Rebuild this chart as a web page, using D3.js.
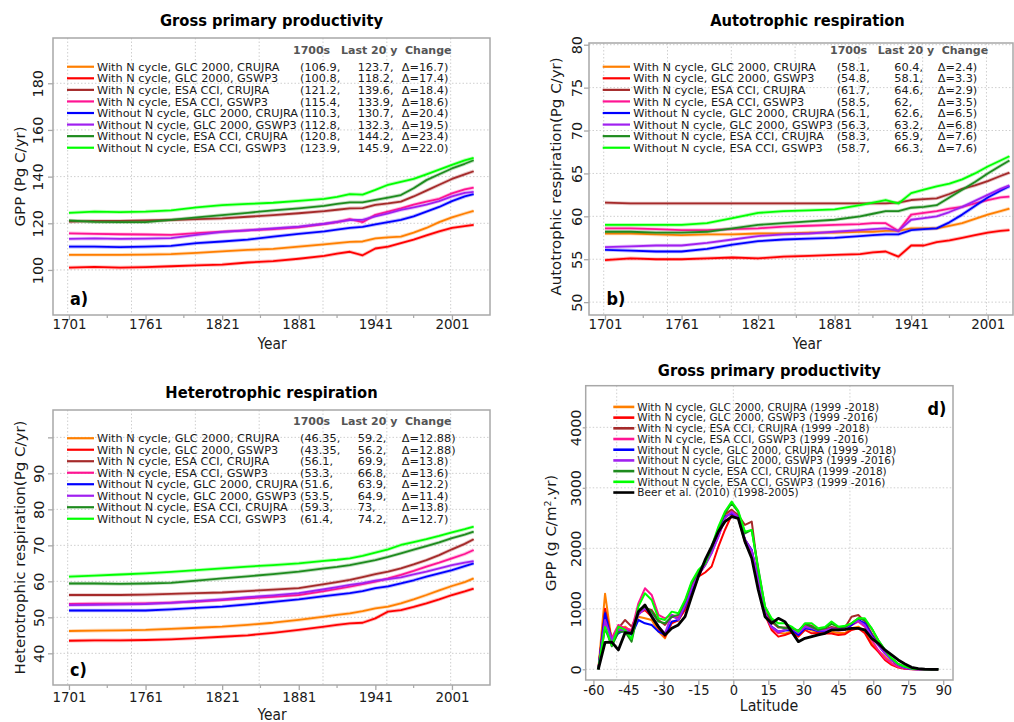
<!DOCTYPE html>
<html><head><meta charset="utf-8">
<script src="https://cdn.jsdelivr.net/npm/d3@7"></script>
<style>body{margin:0;background:#fff}svg text{font-family:"DejaVu Sans",sans-serif}</style>
</head><body>
<svg id="chart" width="1014" height="722"></svg>
<script>
// ---------------- DATA ----------------
const seriesNames = [
  "With N cycle, GLC 2000, CRUJRA","With N cycle, GLC 2000, GSWP3",
  "With N cycle, ESA CCI, CRUJRA","With N cycle, ESA CCI, GSWP3",
  "Without N cycle, GLC 2000, CRUJRA","Without N cycle, GLC 2000, GSWP3",
  "Without N cycle, ESA CCI, CRUJRA","Without N cycle, ESA CCI, GSWP3"];
const seriesColors = ["#FF7F00","#FF0000","#A52A2A","#FF1493","#0000FF","#A020F0","#1E8B1E","#00FF00"];
const statHeaders = ["1700s","Last 20 y","Change"];

const years = [1701,1721,1741,1761,1781,1801,1821,1841,1861,1881,1901,1911,1921,1931,1941,1951,1961,1971,1981,1991,2001,2011,2018];
const yearTicks = [1701,1761,1821,1881,1941,2001];
const yearMinorTicks = [1731,1791,1851,1911,1971];
const yearGrid = [1700,1750,1800,1850,1900,1950,2000];

// Panel a: GPP (Pg C/yr)
const gppSeries = [
 [106.5,106.5,106.5,106.6,106.8,107.3,108,108.6,109,110,111,111.5,112,112.2,113.5,114,114.3,116,118,120.5,122.5,124.2,125.3],
 [101,101.3,101,101.2,101.6,102,102.3,103.2,103.8,104.8,106,107,107.8,106.3,109.2,110,111.5,113,114.8,116.5,118,118.8,119.3],
 [120.7,121,121,121.2,121.4,121.8,122.1,122.8,123.5,124.3,125.2,125.8,126.4,126.5,127.9,128.5,129.3,131.5,134,136.5,139,141,142.3],
 [115.7,115.5,115.3,115.2,115,115.8,116.4,117,117.5,118.3,119.7,120.5,121.8,120.5,123.6,125,126.4,128,129.3,130.5,132.8,134.5,135.3],
 [110,110,109.8,110,110.3,111.5,112.2,113,114.3,115.5,116.5,117.3,118,118.5,119.5,120.5,121.5,123,125,127,129.5,131.5,132.5],
 [113.3,113.5,113.3,113.4,113.6,115,116.3,117,117.8,118.6,119.8,120.6,121.4,121.5,123,124.3,125.7,126.8,128,129.5,131.5,133,133.5],
 [121.2,120.6,120.5,120.5,121.5,122.5,123.5,124.5,125.5,126.4,127.5,128.3,129,129,130,131,132.1,135,138.5,141,143.5,145.5,147],
 [124.5,125,124.8,125,125.5,126.8,127.8,128.3,128.8,129.6,130.5,131.3,132.5,132.3,134.3,136.5,137.8,139,141,143,145,147,148]];
const gppStats = [["(106.9,","123.7,","Δ=16.7)"],["(100.8,","118.2,","Δ=17.4)"],["(121.2,","139.6,","Δ=18.4)"],["(115.4,","133.9,","Δ=18.6)"],
 ["(110.3,","130.7,","Δ=20.4)"],["(112.8,","132.3,","Δ=19.5)"],["(120.8,","144.2,","Δ=23.4)"],["(123.9,","145.9,","Δ=22.0)"]];
const gppTicks = [100,120,140,160,180];

// Panel b: autotrophic respiration
const raSeries = [
 [58,58,57.9,57.8,57.9,57.9,58,58,58.1,58.1,58.2,58.2,58.3,58.3,58.6,58.6,58.6,58.9,59.2,59.7,60.2,60.6,60.9],
 [54.9,55.1,55,55,55.1,55.2,55.1,55.3,55.4,55.5,55.6,55.8,55.9,55.3,56.6,56.6,57,57.2,57.5,57.8,58.1,58.3,58.4],
 [61.6,61.5,61.5,61.5,61.5,61.5,61.5,61.5,61.5,61.5,61.5,61.5,61.5,61.6,61.9,62,62.1,62.6,63.2,63.6,64.1,64.7,65.1],
 [58.6,58.6,58.5,58.4,58.4,58.5,58.6,58.8,58.9,59,59.1,59.2,59.2,58.3,60.2,60.4,60.6,60.9,61.1,61.5,61.9,62.2,62.3],
 [56.1,56,55.9,55.9,56.2,56.7,57.1,57.3,57.4,57.5,57.7,57.8,57.9,57.9,58.4,58.5,58.6,59.3,60.2,61.2,62.2,63,63.5],
 [56.4,56.5,56.6,56.6,56.9,57.3,57.7,57.9,58,58.2,58.4,58.5,58.6,58.3,59.6,59.8,60,60.5,61.1,61.8,62.5,63.2,63.6],
 [58.2,58.2,58.1,58.1,58.2,58.6,59,59.2,59.4,59.6,60,60.3,60.6,60.6,61,61.1,61.3,62.2,63.1,64,65,65.9,66.5],
 [59,59,59,59,59.2,59.8,60.4,60.6,60.7,60.8,61.3,61.6,61.9,61.5,62.7,63.1,63.5,63.8,64.3,65,65.8,66.5,67]];
const raStats = [["(58.1,","60.4,","Δ=2.4)"],["(54.8,","58.1,","Δ=3.3)"],["(61.7,","64.6,","Δ=2.9)"],["(58.5,","62,","Δ=3.5)"],
 ["(56.1,","62.6,","Δ=6.5)"],["(56.3,","63.2,","Δ=6.8)"],["(58.3,","65.9,","Δ=7.6)"],["(58.7,","66.3,","Δ=7.6)"]];
const raTicks = [50,55,60,65,70,75,80];

// Panel c: heterotrophic respiration
const rhSeries = [
 [46.2,46.3,46.4,46.5,46.8,47.1,47.4,47.9,48.5,49.3,50.2,50.7,51.1,51.7,52.5,53,53.9,55,56.2,57.5,58.7,59.8,60.8],
 [43.5,43.6,43.6,43.7,43.9,44.2,44.6,45,45.7,46.5,47.4,47.9,48.3,48.5,49.7,51.6,52,52.9,53.9,55,56.2,57.2,58],
 [56.2,56.2,56.2,56.3,56.5,56.7,56.9,57.3,57.7,58.1,59.2,59.8,60.4,61.2,62,62.7,63.6,64.7,65.9,67.3,68.9,70.4,71.7],
 [53.7,53.8,53.8,53.9,54.1,54.4,54.8,55.3,55.7,56.2,57.3,57.9,58.5,59.2,59.9,60.8,61.8,62.9,64.1,65.2,66.4,67.6,68.7],
 [51.9,51.9,51.9,51.9,52.2,52.6,53,53.6,54.3,55,55.9,56.3,56.7,57.3,58.1,58.6,59.4,60.3,61.3,62.2,63.1,64.2,65],
 [53.4,53.5,53.6,53.7,54,54.5,55,55.6,56.1,56.7,57.8,58.4,59,59.5,60.2,60.6,61.1,61.9,62.7,63.6,64.5,65.2,65.6],
 [59.4,59.4,59.3,59.4,59.6,60.2,60.8,61.4,62,62.7,63.6,64,64.5,65.2,65.9,66.8,67.8,68.8,69.8,70.8,72,73,73.8],
 [61.3,61.6,61.9,62.2,62.6,63.1,63.6,64.1,64.5,65,65.7,66,66.4,67.1,68,68.9,70.1,70.9,71.7,72.6,73.6,74.5,75.2]];
const rhStats = [["(46.35,","59.2,","Δ=12.88)"],["(43.35,","56.2,","Δ=12.88)"],["(56.1,","69.9,","Δ=13.8)"],["(53.3,","66.8,","Δ=13.6)"],
 ["(51.6,","63.9,","Δ=12.2)"],["(53.5,","64.9,","Δ=11.4)"],["(59.3,","73,","Δ=13.8)"],["(61.4,","74.2,","Δ=12.7)"]];
const rhTicks = [40,50,60,70,80,90,100];
const rhTickLabels = ["40","50","60","70","80","90",""];

// Panel d: zonal GPP (g C/m2/yr)
const latNames = [
 "With N cycle, GLC 2000, CRUJRA (1999 -2018)","With N cycle, GLC 2000, GSWP3 (1999 -2016)",
 "With N cycle, ESA CCI, CRUJRA (1999 -2018)","With N cycle, ESA CCI, GSWP3 (1999 -2016)",
 "Without N cycle, GLC 2000, CRUJRA (1999 -2018)","Without N cycle, GLC 2000, GSWP3 (1999 -2016)",
 "Without N cycle, ESA CCI, CRUJRA (1999 -2018)","Without N cycle, ESA CCI, GSWP3 (1999 -2016)",
 "Beer et al. (2010) (1998-2005)"];
const latColors = [...seriesColors, "#000000"];
const lats = [-57.9,-55,-52.1,-49.3,-46.4,-43.6,-40.7,-37.9,-35,-32.1,-29.3,-26.4,-23.6,-20.7,-17.9,-15,-12.1,-9.3,-6.4,-3.6,-0.7,2.1,5,7.9,10.7,13.6,16.4,19.3,22.1,25,27.9,30.7,33.6,36.4,39.3,42.1,45,47.9,50.7,53.6,56.4,59.3,62.1,65,67.9,70.7,73.6,76.4,79.3,82.1,85,87.9];
const latSeries = [
 [0,1250,450,650,705,620,870,843,815,623,512,788,800,1008,1284,1560,1720,1930,2250,2550,2640,2500,2150,1950,1480,920,680,600,590,630,560,690,640,620,620,620,600,600,680,705,623,430,300,209,99,40,10,3,0,0,0,0],
 [0,1000,480,705,678,623,925,980,870,678,540,760,815,980,1229,1532,1600,1700,2028,2303,2551,2500,2100,1900,1450,900,650,540,568,606,540,650,595,600,590,590,568,580,650,678,595,402,292,154,72,28,8,2,0,0,0,0],
 [0,950,500,678,815,705,950,1008,980,815,733,870,850,1090,1394,1587,1750,1980,2303,2570,2634,2550,2386,2441,1600,950,788,690,690,680,620,750,720,650,660,700,680,690,870,898,788,595,430,290,150,60,20,5,0,0,0,0],
 [0,780,520,733,678,650,1090,1339,1229,900,843,900,870,1063,1366,1559,1725,1945,2193,2496,2606,2520,2140,1970,1480,930,690,595,650,660,600,720,700,640,640,660,640,650,730,788,705,485,320,182,99,40,12,3,0,0,0,0],
 [0,925,440,595,650,568,815,760,733,623,568,788,815,1036,1311,1560,1740,1940,2250,2524,2579,2520,2140,1970,1470,925,705,623,640,650,568,678,660,630,630,650,650,660,733,815,760,568,402,265,154,72,25,5,0,0,0,0],
 [0,815,480,650,650,600,900,1008,900,705,595,900,815,1060,1339,1550,1720,1917,2193,2500,2600,2510,2140,1960,1470,925,700,620,650,680,600,700,680,640,640,680,660,670,760,800,730,540,402,265,154,72,25,5,0,0,0,0],
 [0,680,380,620,620,457,980,1036,953,788,760,870,900,1118,1421,1614,1752,2000,2331,2579,2744,2600,2248,2303,1670,1036,815,705,678,680,640,750,700,650,680,750,700,700,760,843,815,678,485,320,182,88,44,15,3,0,0,0],
 [0,700,400,705,650,500,1036,1256,1146,843,815,953,925,1146,1449,1642,1752,2028,2358,2606,2772,2620,2276,2303,1642,1036,843,760,760,705,623,760,760,678,700,788,705,720,760,843,843,678,485,320,182,88,44,15,3,0,0,0],
 [0,446,450,320,606,595,953,1063,870,705,568,678,733,870,1201,1532,1807,2028,2276,2441,2524,2496,2110,1835,1311,870,760,843,788,623,457,512,540,568,595,650,650,661,678,678,650,512,430,320,237,154,88,33,11,3,0,0]];
const latTicks = [-60,-45,-30,-15,0,15,30,45,60,75,90];
const latGrid = [-50,0,50];
const latYTicks = [0,1000,2000,3000,4000];

// ---------------- DRAWING ----------------
const svg = d3.select("#chart");
const FRAME = "#a8a8a8", GRID = "#cfcfcf", TXT = "#1a1a1a";
const SX = 0.92;            // horizontal squeeze of the original figure's lettering
let clipId = 0;

function htext(parent, x, y, str, size, anchor, bold, fill, sx) {
  return parent.append("text")
    .attr("transform", `translate(${x},${y}) scale(${sx || SX},1)`)
    .attr("text-anchor", anchor || "start")
    .style("font-size", size + "px").style("font-weight", bold ? "bold" : "normal")
    .attr("fill", fill || TXT).text(str);
}

function panel(o) {
  const g = svg.append("g");
  const x = d3.scaleLinear().domain(o.xDom).range([o.L, o.R]);
  const y = d3.scaleLinear().domain(o.yDom).range([o.B, o.T]);
  g.selectAll(null).data(o.xGrid).join("line")
    .attr("x1", d => x(d)).attr("x2", d => x(d)).attr("y1", o.T).attr("y2", o.B)
    .attr("stroke", GRID).attr("stroke-width", 1).attr("stroke-dasharray", "1.5,2");
  g.selectAll(null).data(o.yTicks).join("line")
    .attr("y1", d => y(d)).attr("y2", d => y(d)).attr("x1", o.L).attr("x2", o.R)
    .attr("stroke", GRID).attr("stroke-width", 1).attr("stroke-dasharray", "1.5,2");
  const cid = "clip" + (clipId++);
  svg.append("clipPath").attr("id", cid).append("rect")
    .attr("x", o.L).attr("y", o.T).attr("width", o.R - o.L).attr("height", o.B - o.T);
  const lg = g.append("g").attr("clip-path", `url(#${cid})`);
  const line = d3.line().x((d, i) => x(o.xs[i])).y(d => y(d));
  o.series.forEach((s, i) => {
    if (o.fuzz) lg.append("path").attr("d", line(s)).attr("fill", "none")
      .attr("stroke", o.colors[i]).attr("stroke-width", 3.6).attr("stroke-opacity", 0.28);
    lg.append("path").attr("d", line(s)).attr("fill", "none")
      .attr("stroke", o.colors[i]).attr("stroke-width", o.lw ? o.lw[i] : 1.8)
      .attr("stroke-linejoin", "round");
  });
  g.append("rect").attr("x", o.L).attr("y", o.T).attr("width", o.R - o.L).attr("height", o.B - o.T)
    .attr("fill", "none").attr("stroke", FRAME).attr("stroke-width", 1.5);
  // x axis
  const xa = g.append("g").attr("transform", `translate(0,${o.B})`)
    .call(d3.axisBottom(x).tickValues(o.xTicks).tickSize(5).tickFormat(d => d));
  xa.select(".domain").remove();
  xa.selectAll("line").attr("stroke", FRAME).attr("stroke-width", 1.3);
  xa.selectAll("text").attr("y", 0).attr("dy", 0)
    .attr("transform", `translate(0,${o.xLabOff}) scale(${SX},1)`).attr("fill", TXT)
    .style("font-size", (o.xTickSize || 14.6) + "px").style("font-family", "DejaVu Sans");
  if (o.xMinor) {
    g.selectAll(null).data(o.xMinor).join("line")
      .attr("x1", d => x(d)).attr("x2", d => x(d)).attr("y1", o.B).attr("y2", o.B + 3)
      .attr("stroke", FRAME).attr("stroke-width", 1.2);
  }
  // y axis
  const ya = g.append("g").attr("transform", `translate(${o.L},0)`)
    .call(d3.axisLeft(y).tickValues(o.yTicks).tickSize(o.yTickSize || 5)
      .tickFormat((d, i) => o.yTickLabels ? o.yTickLabels[i] : d));
  ya.select(".domain").remove();
  ya.selectAll("line").attr("stroke", FRAME).attr("stroke-width", 1.3);
  ya.selectAll("text").attr("x", 0).attr("y", 0).attr("dy", 0)
    .attr("transform", `translate(${-o.yLabOff},0) rotate(-90) scale(1,${SX})`)
    .attr("text-anchor", "middle").attr("fill", TXT)
    .style("font-size", "14.4px").style("font-family", "DejaVu Sans");
  // titles
  htext(svg, (o.L + o.R) / 2 + (o.titleDx || 0), o.titleY, o.title, 16, "middle", true, "#000");
  htext(svg, o.xTitleX, o.xTitleY, o.xTitle, o.xTitleSize, "middle");
  const yt = svg.append("text")
    .attr("transform", `translate(${o.yTitleX},${o.yTitleY}) rotate(-90) scale(1,${SX})`)
    .attr("text-anchor", "middle").style("font-size", "15px").attr("fill", TXT);
  if (o.yTitleParts) {
    yt.append("tspan").text(o.yTitleParts[0]);
    yt.append("tspan").attr("dy", -5).style("font-size", "9.5px").text(o.yTitleParts[1]);
    yt.append("tspan").attr("dy", 5).text(o.yTitleParts[2]);
  } else yt.text(o.yTitle);
  htext(svg, o.letterX, o.letterY, o.letter, 17.5, "start", true, "#000");
  return {x, y};
}

function legend(o) {
  const g = svg.append("g");
  o.names.forEach((n, i) => {
    const by = o.y0 + i * o.dy;
    const ly = by - o.fs * 0.36;
    g.append("line").attr("x1", o.lx0).attr("x2", o.lx1).attr("y1", ly).attr("y2", ly)
      .attr("stroke", o.colors[i]).attr("stroke-width", o.lineW || 2.2);
    htext(g, o.tx, by, n, o.fs, "start", false, TXT, 1);
    if (o.stats) o.stats[i].forEach((s, j) => htext(g, o.cols[j], by, s, o.fs, "start", false, TXT, 1));
  });
  if (o.headers) o.headers.forEach((h, j) => htext(g, o.hx[j], o.hy, h, 11, "start", true, "#555", 1));
}

// Panel a
panel({L: 53, R: 490, T: 38, B: 315, xDom: [1688.5, 2030.8], yDom: [80.7, 199.4],
  xs: years, series: gppSeries, colors: seriesColors, fuzz: true,
  xGrid: yearGrid, xTicks: yearTicks, xMinor: yearMinorTicks, yTicks: gppTicks,
  xLabOff: 14, yLabOff: 10, title: "Gross primary productivity", titleY: 26,
  xTitle: "Year", xTitleSize: 15, xTitleX: 272, xTitleY: 349, yTitle: "GPP (Pg C/yr)", yTitleX: 24.5, yTitleY: 176.5,
  letter: "a)", letterX: 70, letterY: 304.5});
legend({names: seriesNames, colors: seriesColors, stats: gppStats, y0: 70.8, dy: 11.57, fs: 11.3,
  lx0: 67, lx1: 94, tx: 97, cols: [300, 357.7, 401.7], headers: statHeaders, hx: [293, 341, 405], hy: 54});

// Panel b
panel({L: 589, R: 1013, T: 43, B: 315, xDom: [1688.46, 2020.8], yDom: [48.5, 80.2],
  xs: years, series: raSeries, colors: seriesColors, fuzz: true,
  xGrid: yearGrid, xTicks: yearTicks, xMinor: yearMinorTicks, yTicks: raTicks,
  xLabOff: 14, yLabOff: 7.5, title: "Autotrophic respiration", titleY: 26, titleDx: 6.5,
  xTitle: "Year", xTitleSize: 15, xTitleX: 807, xTitleY: 349, yTitle: "Autotrophic respiration(Pg C/yr)", yTitleX: 561, yTitleY: 176.5,
  letter: "b)", letterX: 606.5, letterY: 304.5});
legend({names: seriesNames, colors: seriesColors, stats: raStats, y0: 70.8, dy: 11.57, fs: 11.3,
  lx0: 602.7, lx1: 630, tx: 633.3, cols: [836.7, 894.3, 937.7], headers: statHeaders, hx: [830, 877.7, 941.7], hy: 54});

// Panel c
panel({L: 53, R: 490, T: 410, B: 685, xDom: [1688.5, 2030.8], yDom: [31.2, 107.6],
  xs: years, series: rhSeries, colors: seriesColors, fuzz: true,
  xGrid: yearGrid, xTicks: yearTicks, xMinor: yearMinorTicks, yTicks: rhTicks, yTickLabels: rhTickLabels,
  xLabOff: 16.5, yLabOff: 9, title: "Heterotrophic respiration", titleY: 397.6,
  xTitle: "Year", xTitleSize: 15, xTitleX: 272, xTitleY: 719.5, yTitle: "Heterotrophic respiration(Pg C/yr)", yTitleX: 24.5, yTitleY: 547.5,
  letter: "c)", letterX: 70, letterY: 675.5});
legend({names: seriesNames, colors: seriesColors, stats: rhStats, y0: 442.3, dy: 11.5, fs: 11.3,
  lx0: 67, lx1: 94, tx: 97, cols: [300, 357.7, 401.7], headers: statHeaders, hx: [293, 341, 405], hy: 424.7});

// Panel d
panel({L: 585.7, R: 953, T: 385.7, B: 680, xDom: [-63.3, 94.2], yDom: [-177, 4688],
  xs: lats, series: latSeries, colors: latColors, fuzz: false,
  lw: [2, 2, 2, 2, 2, 2, 2, 2, 2.8],
  xGrid: latGrid, xTicks: latTicks, yTicks: latYTicks, yTickSize: 3, xTickSize: 14.2,
  xLabOff: 15.3, yLabOff: 4.5, title: "Gross primary productivity", titleY: 376,
  xTitle: "Latitude", xTitleSize: 15.5, xTitleX: 769, xTitleY: 711, yTitleParts: ["GPP (g C/m", "2", ".yr)"], yTitleX: 556, yTitleY: 533,
  letter: "d)", letterX: 927.5, letterY: 415});
legend({names: latNames, colors: latColors, y0: 410.7, dy: 10.7, fs: 10.5, lineW: 2.6,
  lx0: 613.3, lx1: 634.3, tx: 637.3});
</script>
</body></html>
